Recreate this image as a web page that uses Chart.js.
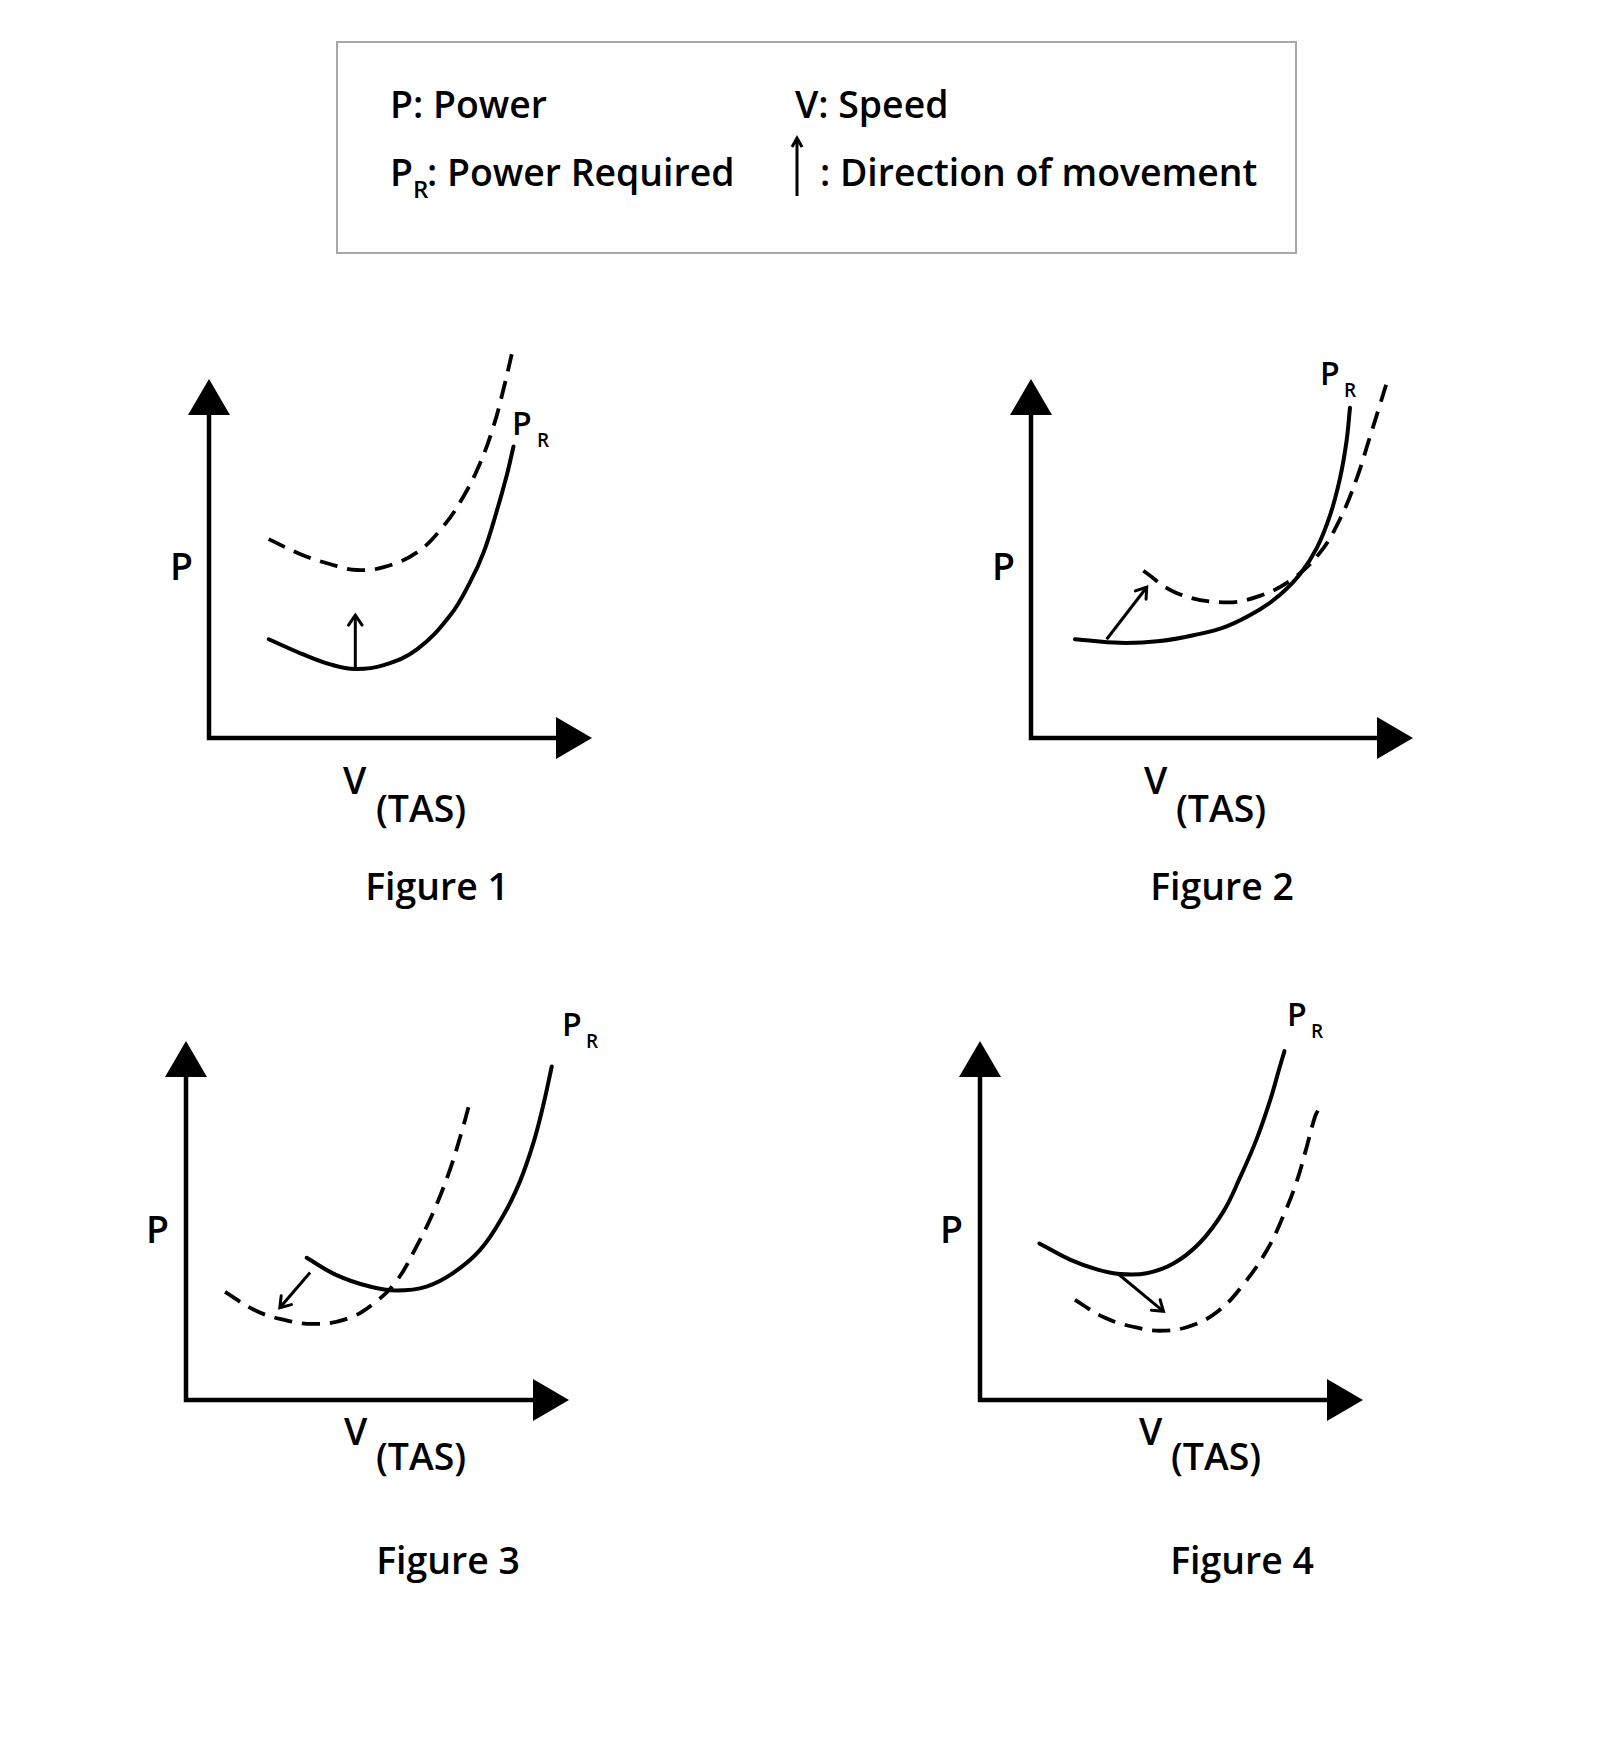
<!DOCTYPE html>
<html>
<head>
<meta charset="utf-8">
<script src="https://cdn.jsdelivr.net/npm/chart.js@4.4.1/dist/chart.umd.min.js"></script>
<style>
  html, body { margin: 0; padding: 0; background: #fff; }
  body { width: 1617px; height: 1747px; position: relative; overflow: hidden;
         font-family: "Open Sans", "Noto Sans", sans-serif; font-weight: 600; color: #000; }
  .t { position: absolute; white-space: nowrap; line-height: 1; }
  .box { position: absolute; left: 336px; top: 41px; width: 957px; height: 209px; border: 2px solid #a8a8a8; }
  canvas { position: absolute; }
</style>
</head>
<body>
<div class="box"></div>
<svg style="position:absolute;left:787px;top:134px" width="20" height="64" viewBox="0 0 20 64">
  <path d="M10 62 L10 4 M5 13 L10 4 L15 13" fill="none" stroke="#000" stroke-width="3" stroke-linecap="butt" stroke-linejoin="miter"/>
</svg>
<div id="labels"></div>

<script>
// ---------------- DATA (axis units 0..10) ----------------
// Figure 1
const fig1SolidV  = [1.56, 2.39, 3.17, 3.82, 4.56, 5.43, 6.30, 6.82, 7.17, 7.51, 7.78, 7.95];
const fig1SolidP  = [2.75, 2.36, 2.05, 1.92, 2.03, 2.47, 3.42, 4.35, 5.17, 6.31, 7.34, 8.12];
const fig1DashV   = [1.56, 2.39, 3.17, 3.86, 4.56, 5.43, 6.12, 6.64, 7.08, 7.43, 7.69, 7.95];
const fig1DashP   = [5.54, 5.12, 4.84, 4.68, 4.76, 5.17, 5.90, 6.72, 7.66, 8.69, 9.72, 10.90];
const fig1ArrowV  = [3.82, 3.82];
const fig1ArrowP  = [1.92, 3.42];
// Figure 2
const fig2SolidV  = [1.15, 2.33, 3.38, 4.25, 5.12, 5.99, 6.52, 7.04, 7.48, 7.83, 8.09, 8.26, 8.35];
const fig2SolidP  = [2.75, 2.65, 2.70, 2.86, 3.11, 3.58, 3.99, 4.56, 5.29, 6.21, 7.24, 8.27, 9.20];
const fig2DashV   = [2.94, 3.81, 5.03, 5.99, 6.87, 7.57, 8.09, 8.53, 8.87, 9.14, 9.35];
const fig2DashP   = [4.66, 4.04, 3.78, 3.96, 4.45, 5.17, 6.10, 7.24, 8.38, 9.30, 10.03];
const fig2ArrowV  = [1.98, 3.03];
const fig2ArrowP  = [2.75, 4.20];
// Figure 3
const fig3SolidV  = [3.15, 3.93, 4.80, 5.50, 6.28, 6.98, 7.68, 8.28, 8.72, 9.07, 9.33, 9.55];
const fig3SolidP  = [3.96, 3.48, 3.16, 3.05, 3.16, 3.54, 4.18, 5.13, 6.09, 7.16, 8.22, 9.29];
const fig3DashV   = [1.02, 1.76, 2.45, 3.32, 4.20, 4.89, 5.50, 6.02, 6.46, 6.89, 7.20, 7.42];
const fig3DashP   = [3.01, 2.52, 2.26, 2.12, 2.26, 2.68, 3.32, 4.28, 5.24, 6.41, 7.48, 8.33];
const fig3ArrowV  = [3.24, 2.45];
const fig3ArrowP  = [3.55, 2.57];
// Figure 4
const fig4SolidV  = [1.55, 2.35, 3.05, 3.66, 4.35, 5.05, 5.74, 6.35, 6.79, 7.22, 7.57, 7.83, 7.95];
const fig4SolidP  = [4.36, 3.91, 3.64, 3.51, 3.53, 3.80, 4.38, 5.24, 6.20, 7.26, 8.33, 9.29, 9.72];
const fig4DashV   = [2.48, 3.22, 4.00, 4.79, 5.57, 6.27, 6.87, 7.49, 7.92, 8.27, 8.53, 8.75, 8.88];
const fig4DashP   = [2.79, 2.31, 2.04, 1.93, 2.09, 2.52, 3.21, 4.17, 5.13, 6.09, 7.05, 7.90, 8.17];
const fig4ArrowV  = [3.61, 4.79];
const fig4ArrowP  = [3.51, 2.47];

// Text
const figureTitles = ['Figure 1', 'Figure 2', 'Figure 3', 'Figure 4'];
const axisYLabel = 'P';
const axisXLabel = 'V';
const axisXSub = '(TAS)';
const curveLabel = 'P';
const curveSub = 'R';
const legendItems = ['P: Power', 'V: Speed', ': Power Required', ': Direction of movement'];

// ---------------- LAYOUT ----------------
const frames = [
  { ox: 209,  oy: 738,  xt: 592,  yt: 379 },
  { ox: 1031, oy: 738,  xt: 1413, yt: 379 },
  { ox: 186,  oy: 1400, xt: 569,  yt: 1041 },
  { ox: 980,  oy: 1400, xt: 1363, yt: 1041 }
];
const PAD = { left: 100, top: 100, right: 60, bottom: 60 };

const FS = 37.4;
function label(text, left, baseline, size, center) {
  const d = document.createElement('div');
  d.className = 't';
  d.textContent = text;
  d.style.fontSize = size + 'px';
  d.style.top = (baseline - 0.888 * size) + 'px';
  d.style.left = left + 'px';
  if (center) d.style.transform = 'translateX(-50%)';
  document.getElementById('labels').appendChild(d);
  return d;
}

// Legend
label(legendItems[0], 390, 118, FS);
label(legendItems[1], 795, 118, FS);
label(curveLabel, 390, 186.5, FS);
label(curveSub, 413, 198, 24);
label(legendItems[2], 427, 186.5, FS);
label(legendItems[3], 820, 186.5, FS);

// Figure labels
const figText = [
  { p: [170, 580],  v: [343, 794],   tas: [376, 822],   fig: [437, 900],    pr: [512, 435],   r: [537, 448] },
  { p: [992, 580],  v: [1144, 794],  tas: [1176, 822],  fig: [1222, 900],   pr: [1320, 385],  r: [1344, 398] },
  { p: [146, 1243], v: [344, 1445],  tas: [376, 1470],  fig: [448, 1574],   pr: [562, 1036],  r: [586, 1049] },
  { p: [940, 1243], v: [1139, 1445], tas: [1171, 1470], fig: [1242, 1574],  pr: [1287, 1026], r: [1311, 1039] }
];
figText.forEach((f, i) => {
  label(axisYLabel, f.p[0], f.p[1], FS);
  label(axisXLabel, f.v[0], f.v[1], FS);
  label(axisXSub, f.tas[0], f.tas[1], FS);
  label(figureTitles[i], f.fig[0], f.fig[1], FS, true);
  label(curveLabel, f.pr[0], f.pr[1], 32);
  label(curveSub, f.r[0], f.r[1], 19);
});

// ---------------- CHARTS ----------------
const zip = (xs, ys) => xs.map((x, i) => ({ x: x, y: ys[i] }));

const axesPlugin = {
  id: 'axesArrows',
  afterDatasetsDraw(chart) {
    const ctx = chart.ctx;
    const xs = chart.scales.x, ys = chart.scales.y;
    const ox = xs.getPixelForValue(0), oy = ys.getPixelForValue(0);
    const xt = xs.getPixelForValue(10), yt = ys.getPixelForValue(10);
    const L = 36, H = 21;
    ctx.save();
    ctx.strokeStyle = '#000';
    ctx.fillStyle = '#000';
    ctx.lineWidth = 4.5;
    ctx.lineJoin = 'miter';
    ctx.lineCap = 'butt';
    ctx.beginPath();
    ctx.moveTo(ox, yt + L - 1);
    ctx.lineTo(ox, oy);
    ctx.lineTo(xt - L + 1, oy);
    ctx.stroke();
    ctx.beginPath();
    ctx.moveTo(ox, yt); ctx.lineTo(ox - H, yt + L); ctx.lineTo(ox + H, yt + L); ctx.closePath(); ctx.fill();
    ctx.beginPath();
    ctx.moveTo(xt, oy); ctx.lineTo(xt - L, oy - H); ctx.lineTo(xt - L, oy + H); ctx.closePath(); ctx.fill();
    chart.data.datasets.forEach((ds, i) => {
      if (!ds.isArrow) return;
      const pts = chart.getDatasetMeta(i).data;
      const a = pts[pts.length - 2], b = pts[pts.length - 1];
      const ang = Math.atan2(b.y - a.y, b.x - a.x);
      const len = 12, spread = 0.6;
      ctx.lineWidth = 3;
      ctx.lineCap = 'round';
      ctx.beginPath();
      ctx.moveTo(b.x - len * Math.cos(ang - spread), b.y - len * Math.sin(ang - spread));
      ctx.lineTo(b.x, b.y);
      ctx.lineTo(b.x - len * Math.cos(ang + spread), b.y - len * Math.sin(ang + spread));
      ctx.stroke();
    });
    ctx.restore();
  }
};

const figData = [
  [fig1SolidV, fig1SolidP, fig1DashV, fig1DashP, fig1ArrowV, fig1ArrowP],
  [fig2SolidV, fig2SolidP, fig2DashV, fig2DashP, fig2ArrowV, fig2ArrowP],
  [fig3SolidV, fig3SolidP, fig3DashV, fig3DashP, fig3ArrowV, fig3ArrowP],
  [fig4SolidV, fig4SolidP, fig4DashV, fig4DashP, fig4ArrowV, fig4ArrowP]
];

frames.forEach((fr, i) => {
  const c = document.createElement('canvas');
  const w = (fr.xt - fr.ox) + PAD.left + PAD.right;
  const h = (fr.oy - fr.yt) + PAD.top + PAD.bottom;
  c.width = w; c.height = h;
  c.style.left = (fr.ox - PAD.left) + 'px';
  c.style.top = (fr.yt - PAD.top) + 'px';
  c.style.width = w + 'px'; c.style.height = h + 'px';
  document.body.appendChild(c);
  const d = figData[i];
  new Chart(c, {
    type: 'line',
    data: {
      datasets: [
        { data: zip(d[0], d[1]), borderColor: '#000', borderWidth: 4, pointRadius: 0,
          tension: 0.4, clip: false, fill: false, borderCapStyle: 'round' },
        { data: zip(d[2], d[3]), borderColor: '#000', borderWidth: 3.8, pointRadius: 0,
          borderDash: [18, 10], tension: 0.4, clip: false, fill: false },
        { data: zip(d[4], d[5]), borderColor: '#000', borderWidth: 3, pointRadius: 0,
          tension: 0, clip: false, fill: false, isArrow: true }
      ]
    },
    options: {
      responsive: false,
      animation: false,
      devicePixelRatio: 1,
      layout: { padding: PAD },
      plugins: { legend: { display: false }, tooltip: { enabled: false }, title: { display: false } },
      events: [],
      scales: {
        x: { type: 'linear', min: 0, max: 10, display: false },
        y: { type: 'linear', min: 0, max: 10, display: false }
      }
    },
    plugins: [axesPlugin]
  });
});
</script>
</body>
</html>
